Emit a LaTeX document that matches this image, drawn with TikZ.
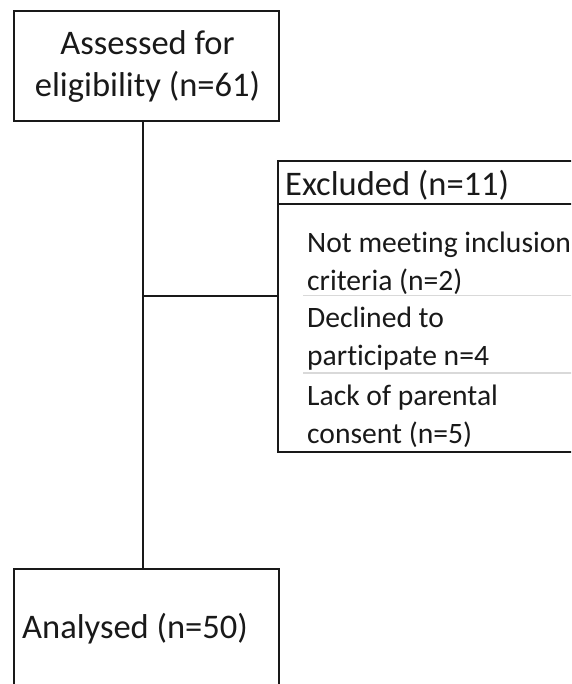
\documentclass[tikz,border=0pt]{standalone}
\usepackage{fontspec}
\setmainfont[Ligatures=NoCommon]{Carlito}
\begin{document}
\begin{tikzpicture}[x=1pt,y=-1pt,
  boxline/.style={draw=black!90,line width=2.4pt},
  bigtxt/.style={font=\fontsize{34.5}{42}\selectfont,inner sep=0pt,text=black!90},
  smalltxt/.style={font=\fontsize{29.6}{38}\selectfont,inner sep=0pt,anchor=base west,text=black!90},
  sep/.style={draw=black!15,line width=1.5pt},
  conn/.style={draw=black!90,line width=2.4pt}]
\useasboundingbox (0,0) rectangle (571,684);
\clip (0,0) rectangle (571,684);
% boxes
\node[boxline,minimum width=265pt,minimum height=110pt,inner sep=0pt] (top) at (146.5,66) {};
\node[boxline,minimum width=362pt,minimum height=291pt,inner sep=0pt] (excl) at (459,306.5) {};
\node[boxline,minimum width=265pt,minimum height=160pt,inner sep=0pt] (ana) at (146.5,649) {};
% texts
\node[bigtxt,anchor=base] (t1) at (147.5,55) {Assessed for};
\node[bigtxt,anchor=base] (t2) at (147.5,97) {eligibility (n=61)};
\node[bigtxt,anchor=base west] (eh) at (285,196) {Excluded (n=11)};
\coordinate (hl) at (278,204);
\draw[boxline] (hl) -- (hl -| excl.east);
\node[smalltxt] (s1) at (307,252) {Not meeting inclusion};
\node[smalltxt] (s2) at (307,290) {criteria (n=2)};
\coordinate (g1) at (303,295.5);
\draw[sep] (g1) -- (g1 -| excl.east);
\node[smalltxt] (s3) at (307,327) {Declined to};
\node[smalltxt] (s4) at (307,365) {participate n=4};
\coordinate (g2) at (303,373);
\draw[sep] (g2) -- (g2 -| excl.east);
\node[smalltxt] (s5) at (307,405) {Lack of parental};
\node[smalltxt] (s6) at (307,443) {consent (n=5)};
\node[bigtxt,anchor=base west] (at) at (22,638) {Analysed (n=50)};
% connectors
\coordinate (j) at (143,296);
\draw[conn] (j |- top.south) -- (j |- ana.north);
\draw[conn] (j) -- (j -| excl.west);
\end{tikzpicture}
\end{document}
